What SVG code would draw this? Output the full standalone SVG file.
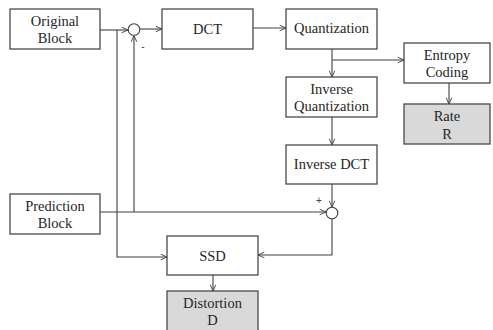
<svg xmlns="http://www.w3.org/2000/svg" width="493" height="330" viewBox="0 0 493 330">
  <defs>
    <marker id="arr" viewBox="0 0 10 10" refX="10" refY="5" markerWidth="7" markerHeight="7" orient="auto" markerUnits="userSpaceOnUse">
      <path d="M1,1 L10,5 L1,9" fill="none" stroke="#404040" stroke-width="1.3"/>
    </marker>
  </defs>
  <style>
    .box { fill: #ffffff; stroke: #4a4a4a; stroke-width: 1.3; }
    .out { fill: #d9d9d9; stroke: #4a4a4a; stroke-width: 1.3; }
    .sum { fill: #ffffff; stroke: #404040; stroke-width: 1.1; }
    .lbl { font-family: 'Liberation Serif', 'Times New Roman', serif; font-size: 14.5px; fill: #262626; text-anchor: middle; }
    .sgn { font-family: 'Liberation Sans', Arial, sans-serif; font-size: 10px; fill: #404040; text-anchor: middle; }
    .wire { fill: none; stroke: #404040; stroke-width: 1.1; }
    .wire.a { marker-end: url(#arr); }
  </style>
  <rect width="493" height="330" fill="#ffffff"/>

  <g id="connectors">
    <!-- original block to first summer -->
    <path class="wire a" d="M100,30 H128"/>
    <!-- original block tap down to SSD -->
    <path class="wire a" d="M117,30 V257 H167"/>
    <!-- prediction into first summer (subtracted) -->
    <path class="wire a" d="M134,212 V35.5"/>
    <!-- summer to DCT -->
    <path class="wire a" d="M139.5,29 H162"/>
    <!-- DCT to quantization -->
    <path class="wire a" d="M253,28 H286"/>
    <!-- quantization down to inverse quantization -->
    <path class="wire a" d="M332,49 V77"/>
    <!-- quantization branch to entropy coding -->
    <path class="wire a" d="M332,60 H404"/>
    <!-- entropy coding to rate -->
    <path class="wire a" d="M449,83 V104"/>
    <!-- inverse quantization to inverse DCT -->
    <path class="wire a" d="M332,117 V145"/>
    <!-- inverse DCT into second summer -->
    <path class="wire a" d="M332,184 V207"/>
    <!-- prediction block into second summer -->
    <path class="wire a" d="M100,212 H326"/>
    <!-- reconstruction to SSD -->
    <path class="wire a" d="M332,219 V255 H258"/>
    <!-- SSD to distortion -->
    <path class="wire a" d="M213,275 V291"/>
  </g>

  <g id="sum1">
    <circle class="sum" cx="134" cy="29.5" r="5.8"/>
    <text class="sgn" x="143" y="50">-</text>
  </g>
  <g id="sum2">
    <circle class="sum" cx="332" cy="213" r="5.8"/>
    <text class="sgn" x="319" y="204">+</text>
  </g>

  <g id="original-block">
    <rect class="box" x="10" y="9" width="90" height="40"/>
    <text class="lbl" x="55" y="26">Original</text>
    <text class="lbl" x="55" y="43">Block</text>
  </g>
  <g id="dct">
    <rect class="box" x="162" y="9" width="91" height="40"/>
    <text class="lbl" x="207.5" y="34">DCT</text>
  </g>
  <g id="quantization">
    <rect class="box" x="286" y="9" width="91" height="40"/>
    <text class="lbl" x="331.5" y="33">Quantization</text>
  </g>
  <g id="entropy-coding">
    <rect class="box" x="404" y="43" width="86" height="40"/>
    <text class="lbl" x="447" y="60">Entropy</text>
    <text class="lbl" x="447" y="77">Coding</text>
  </g>
  <g id="rate">
    <rect class="out" x="404" y="104" width="86" height="40"/>
    <text class="lbl" x="447" y="121">Rate</text>
    <text class="lbl" x="447" y="139">R</text>
  </g>
  <g id="inverse-quantization">
    <rect class="box" x="286" y="77" width="91" height="40"/>
    <text class="lbl" x="331.5" y="94">Inverse</text>
    <text class="lbl" x="331.5" y="111">Quantization</text>
  </g>
  <g id="inverse-dct">
    <rect class="box" x="286" y="145" width="91" height="39"/>
    <text class="lbl" x="331.5" y="169">Inverse DCT</text>
  </g>
  <g id="prediction-block">
    <rect class="box" x="10" y="194" width="90" height="40"/>
    <text class="lbl" x="55" y="211">Prediction</text>
    <text class="lbl" x="55" y="228">Block</text>
  </g>
  <g id="ssd">
    <rect class="box" x="167" y="236" width="91" height="39"/>
    <text class="lbl" x="212.5" y="261">SSD</text>
  </g>
  <g id="distortion">
    <rect class="out" x="167" y="291" width="91" height="45"/>
    <text class="lbl" x="212.5" y="308">Distortion</text>
    <text class="lbl" x="212.5" y="325">D</text>
  </g>
</svg>
